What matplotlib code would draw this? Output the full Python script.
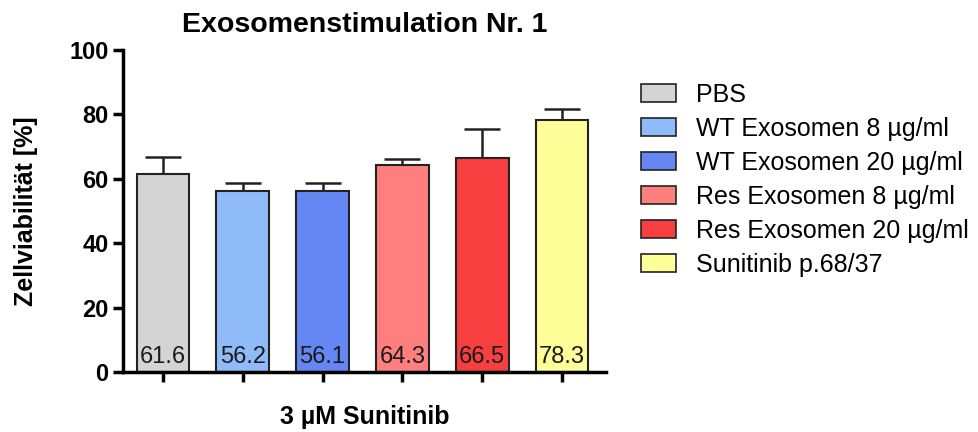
import matplotlib.pyplot as plt
from matplotlib.patches import Patch

plt.rcParams['font.family'] = ['Liberation Sans', 'DejaVu Sans']

groups = ['PBS', 'WT Exosomen 8 µg/ml', 'WT Exosomen 20 µg/ml',
          'Res Exosomen 8 µg/ml', 'Res Exosomen 20 µg/ml', 'Sunitinib p.68/37']
values = [61.6, 56.2, 56.1, 64.3, 66.5, 78.3]
errors = [5.2, 2.6, 2.7, 1.8, 8.9, 3.5]
colors = ['#d4d4d4', '#8fbcf8', '#6487f4', '#ff7f7f', '#f73f3f', '#ffff99']


def main():
    fig = plt.figure(figsize=(9.79, 4.32), dpi=100)
    ax = fig.add_axes([0.1256, 0.139, 0.4934, 0.745])

    x = list(range(len(values)))
    ax.bar(x, values, width=0.66, color=colors, edgecolor='#222222', linewidth=1.5, zorder=2)
    ax.errorbar(x, values, yerr=[[0] * len(errors), errors], fmt='none',
                ecolor='#222222', elinewidth=1.8, capsize=13, capthick=1.8, zorder=1)

    for xi, v in zip(x, values):
        ax.text(xi, 1.3, f'{v:.1f}', ha='center', va='bottom', fontsize=17, color='#1a1a1a', zorder=3)

    ax.set_xlim(-0.5, 5.55)
    ax.set_ylim(0, 100)
    ax.set_yticks([0, 20, 40, 60, 80, 100])
    ax.set_xticks(x)
    ax.set_xticklabels([])
    for s in ['top', 'right']:
        ax.spines[s].set_visible(False)
    for s in ['left', 'bottom']:
        ax.spines[s].set_linewidth(2.5)
    ax.tick_params(axis='both', width=2.5, length=7, labelsize=17)
    for lbl in ax.get_yticklabels():
        lbl.set_fontweight('bold')

    ax.set_ylabel('Zellviabilität [%]', fontsize=18, fontweight='bold', labelpad=22)
    ax.set_xlabel('3 µM Sunitinib', fontsize=18, fontweight='bold', labelpad=13)
    ax.set_title('Exosomenstimulation Nr. 1', fontsize=20.5, fontweight='bold', pad=13)

    handles = [Patch(facecolor=c, edgecolor='#222222', linewidth=1.2) for c in colors]
    fig.legend(handles, groups, loc='upper left', bbox_to_anchor=(0.645, 0.832),
               frameon=False, fontsize=18, handlelength=1.4, handleheight=0.7,
               labelspacing=0.4, handletextpad=0.8, borderaxespad=0)

    fig.savefig('out.png', dpi=100)


if __name__ == '__main__':
    main()
